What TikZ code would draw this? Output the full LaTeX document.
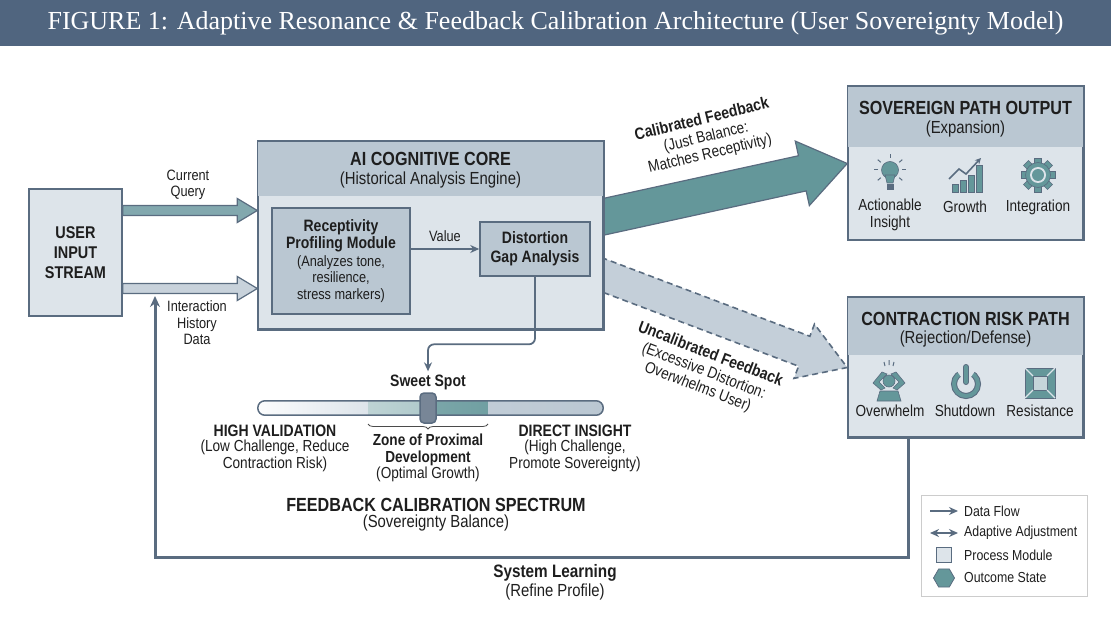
\documentclass[tikz,border=0pt]{standalone}
\usepackage{fontspec}
\setmainfont{Liberation Sans}[FakeStretch=0.85]
\newfontfamily\titlefont{Liberation Serif}
\usetikzlibrary{calc,arrows.meta,shapes.geometric,decorations.pathreplacing,backgrounds}
\definecolor{barblue}{HTML}{50657F}
\definecolor{cedge}{HTML}{5A6C80}
\definecolor{cpanel}{HTML}{DDE4EA}
\definecolor{cband}{HTML}{BAC7D2}
\definecolor{cteal}{HTML}{64979A}
\definecolor{ink}{HTML}{1E1E1E}
\newcommand{\headfont}{\bfseries\fontsize{19}{21}\selectfont}
\newcommand{\modfont}{\bfseries\fontsize{16.5}{19}\selectfont}
\newcommand{\bodyfont}{\fontsize{17.5}{18}\selectfont}
\newcommand{\plainfont}{\fontsize{16}{16.5}\selectfont}
\newcommand{\labelfont}{\fontsize{15}{16.5}\selectfont}
\newcommand{\legfont}{\fontsize{14.5}{16}\selectfont}
\newcommand{\blockarrow}[6]{
	\begin{scope}
	\coordinate (ba-h) at ($(#3)!#6!(#2)$);
	\path[#1] ($(#2)!#4!90:(#3)$) -- ($(ba-h)!#4!90:(#3)$) -- ($(ba-h)!#5!90:(#3)$) -- (#3)
		-- ($(ba-h)!#5!-90:(#3)$) -- ($(ba-h)!#4!-90:(#3)$) -- ($(#2)!#4!-90:(#3)$) -- cycle;
	\end{scope}
}
\newcommand{\headband}[2]{
	\fill[cband] (#1.north west) rectangle ([yshift=-#2]#1.north east);
	\draw[cedge, line width=1.5pt] (#1.north west) rectangle (#1.south east);
}

\begin{document}
\begin{tikzpicture}[x=1pt,y=-1pt,
	panel/.style={draw=cedge, line width=1.5pt, fill=cpanel},
	module/.style={draw=cedge, line width=1.5pt, fill=cband},
	flow/.style={draw=cedge, line width=1.8pt, -{Stealth[length=9pt,width=8pt]}},
	txt/.style={text=ink, align=center, inner sep=0pt, font=\plainfont},
	icon/.style={fill=cteal, draw=cedge, line width=0.6pt}]
	\useasboundingbox (0,0) rectangle (1111,620);
	\fill[barblue] (0,0) rectangle (1111,46);
	\node[text=white, inner sep=0pt, font=\titlefont\fontsize{26}{28}\selectfont] (title) at (555.5,23)
		{FIGURE 1: Adaptive Resonance \& Feedback Calibration Architecture (User Sovereignty Model)};

	\node[panel, minimum width=93pt, minimum height=127pt, txt, font=\bfseries\fontsize{17}{20}\selectfont] (user) at (75.5,252.5) {USER\\INPUT\\STREAM};
	\node[panel, minimum width=345pt, minimum height=187pt] (core) at (430.5,235.5) {};
	\headband{core}{55pt}
	\node[txt, font=\headfont] (core-t) at (430.5,159) {AI COGNITIVE CORE};
	\node[txt, font=\bodyfont] (core-s) at (430.5,180) {(Historical Analysis Engine)};
	\node[module, txt, font=\labelfont, minimum width=138pt, minimum height=106pt] (prof) at (341,261)
		{{\modfont Receptivity}\\[1pt]{\modfont Profiling Module}\\[1pt](Analyzes tone,\\resilience,\\stress markers)};
	\node[module, txt, font=\modfont, minimum width=110pt, minimum height=54pt] (gap) at (535,249) {Distortion\\Gap Analysis};
	\draw[flow] (prof.east |- gap.west) -- node[txt, font=\labelfont, above=6pt] (val) {Value} (gap.west);

	\node[panel, minimum width=235pt, minimum height=153pt] (sov) at (965.5,163.5) {};
	\headband{sov}{61pt}
	\node[txt, font=\headfont] (sov-t) at (965.5,108) {SOVEREIGN PATH OUTPUT};
	\node[txt, font=\bodyfont] (sov-s) at (965.5,129) {(Expansion)};
	\node[txt] (ins) at (890,215) {Actionable\\Insight};
	\node[txt] (gro) at (965,207) {Growth};
	\node[txt] (int) at (1038,207) {Integration};

	\node[panel, minimum width=235pt, minimum height=139pt] (ctr) at (965.5,367.5) {};
	\headband{ctr}{58pt}
	\node[txt, font=\headfont] (ctr-t) at (965.5,319) {CONTRACTION RISK PATH};
	\node[txt, font=\bodyfont] (ctr-s) at (965.5,339) {(Rejection/Defense)};
	\node[txt] (ovw) at (890,411) {Overwhelm};
	\node[txt] (shd) at (965,411) {Shutdown};
	\node[txt] (res) at (1040,411) {Resistance};

	\coordinate (cq-s) at ([yshift=42pt]user.east);
	\coordinate (cq-e) at (cq-s -| core.west);
	\blockarrow{fill=cteal!65!cband, draw=cedge, line width=1.2pt}{cq-s}{cq-e}{5pt}{12pt}{20pt}
	\node[txt, font=\labelfont] (cq) at (188,185) {Current\\Query};
	\coordinate (ih-s) at ([yshift=-36pt]user.east);
	\coordinate (ih-e) at (ih-s -| core.west);
	\blockarrow{fill=cband!80!white, draw=cedge, line width=1.2pt}{ih-s}{ih-e}{5pt}{12pt}{20pt}
	\node[txt, font=\labelfont] (ih) at (197,323) {Interaction\\History\\Data};

	\begin{scope}[on background layer]
	\coordinate (cal-s) at ([xshift=-8pt,yshift=17pt]core.east);
	\blockarrow{fill=cteal, draw=cedge, line width=1.2pt}{cal-s}{sov.west}{18pt}{33pt}{46pt}
	\coordinate (unc-s) at ([xshift=-8pt,yshift=-37pt]core.east);
	\blockarrow{fill=cband!85!white, draw=cedge, dash pattern=on 6pt off 4pt, line width=1.6pt}{unc-s}{ctr.west}{16pt}{29pt}{46pt}
	\end{scope}
	\node[txt, rotate=13.5] (cal) at (706,137) {{\modfont Calibrated Feedback}\\[1.5pt](Just Balance:\\[0.5pt]Matches Receptivity)};
	\node[txt, rotate=-21] (unc) at (704,371) {{\modfont Uncalibrated Feedback}\\[1.5pt](Excessive Distortion:\\[0.5pt]Overwhelms User)};

	\node[txt, font=\modfont] (sweet) at (428,382) {Sweet Spot};
	\draw[flow, rounded corners=6pt, shorten >=3pt] (gap.south) |- ([yshift=30pt]sweet.north) -- (sweet.north);
	\node[minimum width=345pt, minimum height=14pt, inner sep=0pt] (bar) at (430.5,408) {};
	\begin{scope}
	\clip[rounded corners=7pt] (bar.north west) rectangle (bar.south east);
	\shade[left color=white!90!cpanel, right color=cpanel] (258,400) rectangle (368,416);
	\shade[left color=cteal!42!white, right color=cteal!52!white] (368,400) rectangle (428,416);
	\shade[left color=cteal!85!white, right color=cteal!92!white] (428,400) rectangle (488,416);
	\shade[left color=cband!90!white, right color=cband] (488,400) rectangle (604,416);
	\end{scope}
	\draw[cedge, line width=1.5pt, rounded corners=7pt] (bar.north west) rectangle (bar.south east);
	\node[draw=cedge, line width=1.5pt, fill=cedge!82!white, rounded corners=4pt, minimum width=16pt, minimum height=30pt, inner sep=0pt] (knob) at (428,408) {};
	\draw[ink!80, line width=0.8pt, decorate, decoration={brace, mirror, amplitude=5pt}] (368,424) -- (488,424);

	\node[txt, font=\modfont] (hv) at (275,431) {HIGH VALIDATION};
	\node[txt] (hv-s) at (275,456) {(Low Challenge, Reduce\\Contraction Risk)};
	\node[txt] (zpd) at (428,458) {\textbf{Zone of Proximal}\\\textbf{Development}\\(Optimal Growth)};
	\node[txt, font=\modfont] (di) at (575,431) {DIRECT INSIGHT};
	\node[txt] (di-s) at (575,456) {(High Challenge,\\Promote Sovereignty)};
	\node[txt, font=\bfseries\fontsize{19}{21}\selectfont] (fcs) at (436,505) {FEEDBACK CALIBRATION SPECTRUM};
	\node[txt, font=\bodyfont] (fcs-s) at (436,523) {(Sovereignty Balance)};

	\coordinate (fb-s) at ([xshift=-57.5pt]ctr.south);
	\coordinate (fb-m) at (155,557);
	\coordinate (fb-e) at (155,296);
	\draw[draw=cedge, line width=3pt, -{Stealth[length=11pt,width=10pt]}] (fb-s) |- (fb-m) -- (fb-e);
	\node[txt, font=\bfseries\fontsize{18}{20}\selectfont] (sys) at (555,573) {System Learning};
	\node[txt, font=\bodyfont] (sys-s) at (555,592) {(Refine Profile)};

	\begin{scope}[shift={(890,175)}]
	\fill[icon] (0,-5) circle (8.5pt);
	\fill[icon] (-5,0) -- (5,0) -- (3,8) -- (-3,8) -- cycle;
	\fill[cedge] (-3.5,9) rectangle (3.5,15);
	\foreach \a in {0,40,90,140,180,-40,-140}
		\draw[cedge, line width=1pt] ($(0,-5)+(\a:12pt)$) -- ($(0,-5)+(\a:16pt)$);
	\end{scope}
	\begin{scope}[shift={(966,175)}]
	\foreach \x/\h in {-14/8,-6/12,2/17,10/27}
		\fill[icon] (\x,17) rectangle (\x+6,17-\h);
	\draw[cedge, line width=1.6pt, -{Stealth[length=6pt,width=6pt]}] (-17,4) -- (-7,-6) -- (0,-1) -- (15,-17);
	\end{scope}
	\begin{scope}[shift={(1038,175)}]
	\foreach \a in {0,45,...,315}
		\fill[icon, rotate=\a] (-3.5,-17) rectangle (3.5,-11);
	\fill[icon] (0,0) circle (12.5pt);
	\fill[cpanel] (0,0) circle (8pt);
	\fill[cteal] (0,0) circle (6pt);
	\end{scope}

	\begin{scope}[shift={(889,383)}]
	\fill[icon] (-9,8) -- (9,8) -- (12,18) -- (-12,18) -- cycle;
	\fill[icon] (-8,7) -- (-16,0) -- (-7,-11) -- (-2,-9) -- (-10,-1) -- (-4,5) -- cycle;
	\fill[icon] (8,7) -- (16,0) -- (7,-11) -- (2,-9) -- (10,-1) -- (4,5) -- cycle;
	\fill[icon] (0,-2) circle (6pt);
	\draw[cedge, line width=1pt] (-5,-21) -- (-4,-17) (0,-23) -- (0,-18) (5,-21) -- (4,-17);
	\end{scope}
	\begin{scope}[shift={(966,384)}]
	\draw[cedge, line width=6pt] (0,0) circle (12pt);
	\draw[cteal, line width=4pt] (0,0) circle (12pt);
	\fill[cpanel] (0,0) -- (55:20pt) -- (125:20pt) -- cycle;
	\draw[cedge, line width=6pt, line cap=round] (0,-17) -- (0,-2);
	\draw[cteal, line width=4pt, line cap=round] (0,-17) -- (0,-2);
	\end{scope}
	\begin{scope}[shift={(1040,383)}]
	\fill[icon] (-15,-15) rectangle (15,15);
	\fill[cpanel!80!cteal, draw=cedge, line width=0.6pt] (-7,-7) rectangle (7,7);
	\draw[cpanel, line width=1.2pt] (-15,-15) -- (-7,-7) (15,-15) -- (7,-7) (-15,15) -- (-7,7) (15,15) -- (7,7);
	\end{scope}

	\node[draw=black!20, line width=0.8pt, fill=white, minimum width=166pt, minimum height=101pt] (leg) at (1004,545.5) {};
	\coordinate (la-s) at (930,511);
	\coordinate (la-e) at (958,511);
	\coordinate (lb-s) at (930,533);
	\coordinate (lb-e) at (958,533);
	\draw[flow, line width=1.6pt] (la-s) -- (la-e);
	\draw[flow, line width=1.6pt, {Stealth[length=9pt,width=8pt]}-{Stealth[length=9pt,width=8pt]}] (lb-s) -- (lb-e);
	\node[draw=cedge, line width=0.8pt, fill=cpanel, minimum size=15pt, inner sep=0pt] (lc) at (944,555) {};
	\node[regular polygon, regular polygon sides=6, draw=cedge, line width=0.8pt, fill=cteal, minimum size=21pt, inner sep=0pt] (ld) at (944,578) {};
	\node[txt, anchor=west, font=\legfont] (lg-a) at (964,511) {Data Flow};
	\node[txt, anchor=west, font=\legfont] (lg-b) at (964,533) {Adaptive Adjustment};
	\node[txt, anchor=west, font=\legfont] (lg-c) at (964,555) {Process Module};
	\node[txt, anchor=west, font=\legfont] (lg-d) at (964,578) {Outcome State};
\end{tikzpicture}
\end{document}
